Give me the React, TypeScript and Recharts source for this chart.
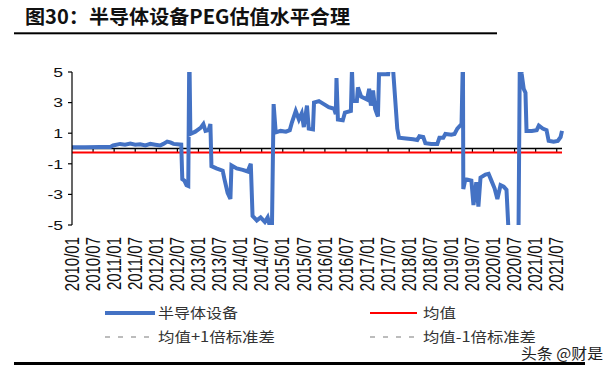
import React from 'react';
import { LineChart, Line, XAxis, YAxis, ReferenceLine } from 'recharts';

// months counted from 2010/01 (fractions = inside the month), weekly-ish readings
const months = [
  0, 3.7, 8, 10.9, 11.7, 13.7, 15.1, 16.6, 18, 19.4, 20.9, 22.3, 23.7, 25.1, 26, 27.1, 28, 28.9,
  31.1, 31.4, 32, 32.6, 33.1, 33.4, 33.7, 35.1, 36.6, 37.4, 38, 38.9, 39.4, 39.7, 41.1, 42.9,
  43.4, 44.3, 45.1, 45.4, 46.9, 48.6, 50, 50.9, 51.4, 52.6, 53.7, 54.9, 55.7, 56.9, 57.4, 58,
  59.4, 60.9, 62, 62.6, 63.7, 64.6, 65.4, 66, 66.9, 67.4, 68.6, 68.9, 70.3, 71.7, 73.1, 74.6,
  75.1, 75.3, 75.7, 77.1, 77.7, 79.4, 79.7, 80, 81.1, 81.4, 82.3, 84, 84.6, 85.1, 85.7, 86.3,
  86.9, 87.1, 87.4, 90, 90.6, 91.4, 92.6, 93.1, 95.1, 97.1, 98.3, 98.9, 100, 100.6, 102.3, 104,
  104.6, 105.7, 106.3, 108, 108.9, 109.7, 110.9, 111.3, 111.4, 112, 113.7, 114.3, 115.1, 115.7,
  116.3, 117.7, 118.6, 119.4, 120.3, 121.1, 122, 122.9, 123.7, 124.3, 125.7, 127.1, 127.5, 128,
  128.6, 129.1, 129.4, 130.9, 132.3, 132.9, 134, 135.1, 135.7, 137.1, 138.3, 139.1, 139.5,
];

const pegValues = [
  0.08, 0.08, 0.1, 0.1, 0.2, 0.3, 0.25, 0.32, 0.25, 0.28, 0.2, 0.3, 0.25, 0.2, 0.3, 0.45, 0.4, 0.3,
  0.25, -2.0, -2.1, -2.4, -2.45, 6.5, 0.95, 1.1, 1.35, 1.6, 1.15, 1.2, 1.6, -1.15, -1.3, -1.45,
  -2.0, -2.9, -3.3, -1.1, -1.3, -1.4, -1.5, -1.0, -4.4, -4.7, -4.5, -4.8, -4.5, -5.6, 2.9, 1.05,
  1.15, 1.1, 1.2, 1.7, 2.45, 1.9, 2.3, 1.4, 2.8, 1.3, 1.25, 3.0, 3.1, 2.9, 2.7, 2.6,
  2.25, 4.6, 1.9, 1.85, 2.35, 2.45, 5.2, 3.1, 3.1, 4.0, 3.4, 3.2, 3.9, 2.8, 3.8, 2.6,
  2.2, 2.1, 4.85, 4.85, 6.0, 5.2, 1.3, 0.7, 0.65, 0.6, 0.55, 0.8, 0.75, 0.35, 0.3, 0.3,
  0.7, 0.7, 0.95, 0.9, 0.95, 1.3, 1.6, 6.0, -2.65, -2.0, -2.1, -3.7, -2.2, -3.8,
  -1.9, -1.7, -1.65, -2.1, -2.6, -3.3, -2.4, -2.5, -2.7, -5.5, -6.0, -6.0, 6.0, 4.9,
  3.9, 3.65, 1.15, 1.15, 1.2, 1.5, 1.3, 1.2, 0.5, 0.45, 0.5, 0.75, 1.15,
];

const MEAN = -0.26;
// both bands sit outside the -5..5 window, so only the legend shows them
const MEAN_PLUS_STD = 9.6;
const MEAN_MINUS_STD = -10.1;

const tickLabels = [
  '2010/01', '2010/07', '2011/01', '2011/07', '2012/01', '2012/07', '2013/01', '2013/07',
  '2014/01', '2014/07', '2015/01', '2015/07', '2016/01', '2016/07', '2017/01', '2017/07',
  '2018/01', '2018/07', '2019/01', '2019/07', '2020/01', '2020/07', '2021/01', '2021/07',
];
const yTicks = [-5, -3, -1, 1, 3, 5];

const seriesNames = ['半导体设备', '均值', '均值+1倍标准差', '均值-1倍标准差'];

const TITLE = '图30：半导体设备PEG估值水平合理';
const SOURCE = '头条 @财是';

const toMonth = (label: string) => {
  const [y, m] = label.split('/').map(Number);
  return (y - 2010) * 12 + (m - 1);
};
const tickMonths = tickLabels.map(toMonth);

const rows = months.map((m, i) => ({
  m,
  peg: pegValues[i],
  mean: MEAN,
  plus: MEAN_PLUS_STD,
  minus: MEAN_MINUS_STD,
}));

const FONT = '"Liberation Sans", Arial, sans-serif';
const CJK = '"Noto Sans CJK SC", sans-serif';

const XTick = (props: any) => {
  const { x, y, payload } = props;
  const idx = tickMonths.indexOf(payload.value);
  return (
    <g transform={`translate(${x},${y})`}>
      <text
        transform="rotate(-90) scale(1,1.3)"
        textAnchor="end"
        dominantBaseline="central"
        fontSize={15}
        fontFamily={FONT}
        fill="#111"
      >
        {idx >= 0 ? tickLabels[idx] : ''}
      </text>
    </g>
  );
};

const YTick = (props: any) => {
  const { x, y, payload } = props;
  return (
    <text
      transform={`translate(${x},${y}) scale(1.3,1)`}
      textAnchor="end"
      dominantBaseline="central"
      fontSize={13.5}
      fontFamily={FONT}
      fill="#111"
    >
      {payload.value}
    </text>
  );
};

const legendStyles = [
  { color: '#4472C4', width: 4, dash: undefined, textWidth: 80 },
  { color: '#FF0000', width: 2, dash: undefined, textWidth: 33 },
  { color: '#A6A6A6', width: 1.5, dash: '5 8', textWidth: 117 },
  { color: '#A6A6A6', width: 1.5, dash: '5 8', textWidth: 113 },
];

const Overlay = () => (
  <svg
    width={615}
    height={373}
    style={{ position: 'absolute', left: 0, top: 0, pointerEvents: 'none' }}
  >
    <text
      x={25}
      y={24}
      fontSize={19.5}
      fontWeight="bold"
      fontFamily={CJK}
      fill="#111"
      textLength={325}
      lengthAdjust="spacingAndGlyphs"
    >
      {TITLE}
    </text>
    <rect x={14} y={32.3} width={483} height={2} fill="#000" />

    {seriesNames.map((name, i) => {
      const s = legendStyles[i];
      const col = i % 2;
      const row = Math.floor(i / 2);
      const lx = col === 0 ? 105 : 370;
      const ly = row === 0 ? 313 : 337;
      const lineLen = s.dash ? 47 : i === 0 ? 50 : 47;
      return (
        <g key={name}>
          <line
            x1={lx}
            x2={lx + lineLen}
            y1={ly}
            y2={ly}
            stroke={s.color}
            strokeWidth={s.width}
            strokeDasharray={s.dash}
          />
          <text
            x={lx + 53}
            y={ly + 5}
            fontSize={14}
            fontFamily={CJK}
            fill="#333"
            textLength={s.textWidth}
            lengthAdjust="spacingAndGlyphs"
          >
            {name}
          </text>
        </g>
      );
    })}

    <text
      x={521}
      y={359}
      fontSize={15}
      fontFamily={CJK}
      fill="#222"
      textLength={82}
      lengthAdjust="spacingAndGlyphs"
    >
      {SOURCE}
    </text>
    <rect x={14} y={362} width={571} height={3} fill="#000" />
  </svg>
);

export default function App() {
  return (
    <div
      style={{
        position: 'absolute',
        left: 0,
        top: 0,
        width: 615,
        height: 373,
        background: '#fff',
        overflow: 'hidden',
      }}
    >
      <LineChart
        width={615}
        height={373}
        data={rows}
        margin={{ top: 72, right: 53, bottom: 78, left: 0 }}
      >
        <XAxis
          dataKey="m"
          type="number"
          domain={[0, 139.5]}
          ticks={tickMonths}
          interval={0}
          axisLine={false}
          tickLine={false}
          tickSize={0}
          tickMargin={12}
          height={70}
          tick={<XTick />}
        />
        <YAxis
          type="number"
          domain={[-5, 5]}
          ticks={yTicks}
          allowDataOverflow
          width={72}
          axisLine={{ stroke: '#000', strokeWidth: 1.2 }}
          tickLine={{ stroke: '#000', strokeWidth: 1.2 }}
          tickSize={4}
          tickMargin={5}
          tick={<YTick />}
        />
        <ReferenceLine y={0} stroke="#000" strokeWidth={1.5} />
        {tickMonths.slice(1).map((m) => (
          <ReferenceLine
            key={m}
            segment={[
              { x: m, y: 0 },
              { x: m, y: -0.25 },
            ]}
            stroke="#000"
            strokeWidth={1.2}
          />
        ))}
        <Line
          dataKey="plus"
          name={seriesNames[2]}
          stroke="#A6A6A6"
          strokeWidth={1.5}
          strokeDasharray="5 8"
          dot={false}
          isAnimationActive={false}
        />
        <Line
          dataKey="minus"
          name={seriesNames[3]}
          stroke="#A6A6A6"
          strokeWidth={1.5}
          strokeDasharray="5 8"
          dot={false}
          isAnimationActive={false}
        />
        <Line
          dataKey="mean"
          name={seriesNames[1]}
          stroke="#FF0000"
          strokeWidth={2}
          dot={false}
          isAnimationActive={false}
        />
        <Line
          dataKey="peg"
          name={seriesNames[0]}
          stroke="#4472C4"
          strokeWidth={4}
          dot={false}
          isAnimationActive={false}
        />
      </LineChart>
      <Overlay />
    </div>
  );
}
